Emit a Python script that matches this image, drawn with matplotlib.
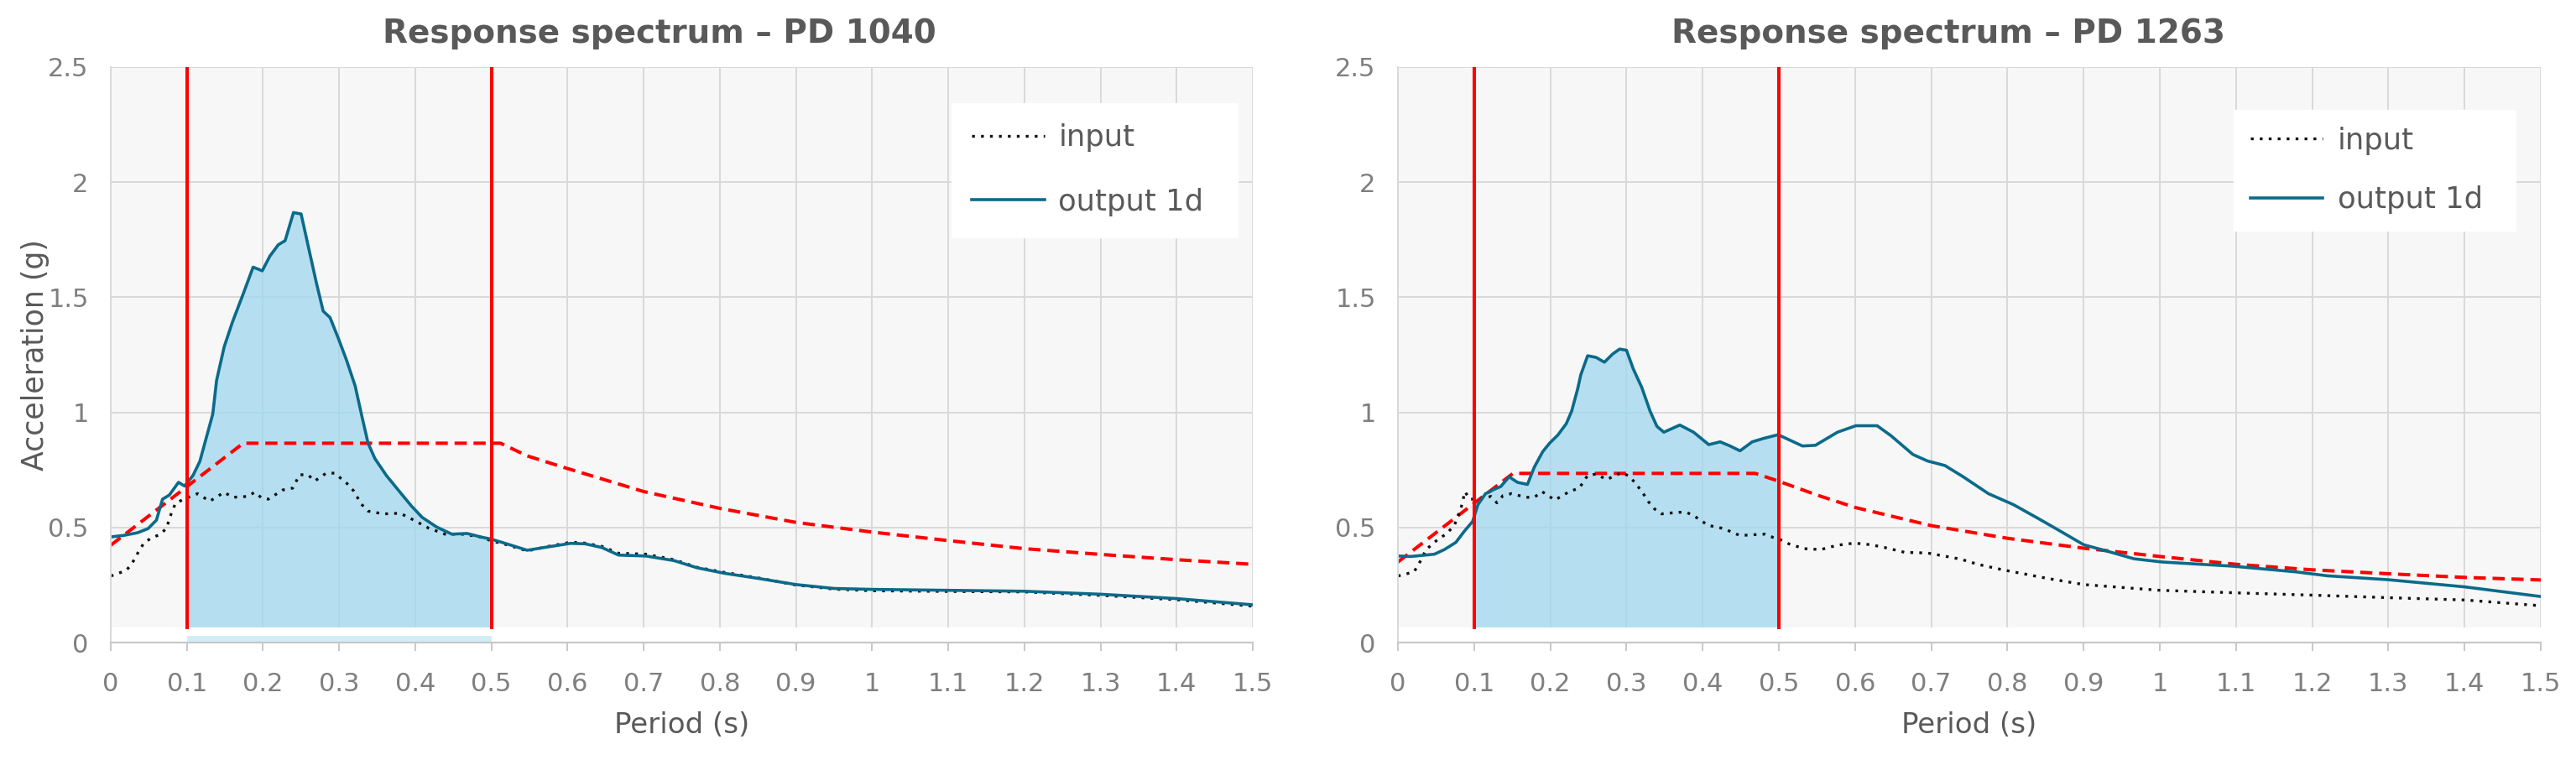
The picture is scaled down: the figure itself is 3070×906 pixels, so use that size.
import matplotlib
matplotlib.use("Agg")
import matplotlib.pyplot as plt
import numpy as np

plt.rcParams['font.family'] = ['DejaVu Sans']

# PD 1040 - output 1d
t_out_a = [0, 0.016, 0.035, 0.049, 0.060, 0.068, 0.077, 0.089, 0.097, 0.108, 0.117, 0.126, 0.134, 0.139,
           0.149, 0.160, 0.174, 0.187, 0.199, 0.209, 0.220, 0.229, 0.240, 0.250, 0.261, 0.270, 0.279, 0.288,
           0.299, 0.310, 0.321, 0.330, 0.338, 0.347, 0.362, 0.380, 0.395, 0.409, 0.428, 0.448, 0.468, 0.487,
           0.499, 0.520, 0.547, 0.575, 0.604, 0.623, 0.645, 0.667, 0.703, 0.740, 0.770, 0.806, 0.850, 0.9,
           0.95, 1.0, 1.1, 1.2, 1.3, 1.4, 1.5]
sa_out_a = [0.459, 0.465, 0.477, 0.495, 0.532, 0.623, 0.641, 0.696, 0.680, 0.726, 0.787, 0.896, 0.993, 1.139,
            1.285, 1.394, 1.515, 1.631, 1.615, 1.679, 1.728, 1.746, 1.868, 1.862, 1.698, 1.564, 1.440, 1.412,
            1.321, 1.224, 1.115, 0.981, 0.866, 0.799, 0.726, 0.653, 0.593, 0.544, 0.502, 0.471, 0.474, 0.458,
            0.450, 0.429, 0.401, 0.416, 0.431, 0.429, 0.413, 0.380, 0.376, 0.356, 0.325, 0.301, 0.279, 0.252,
            0.235, 0.231, 0.227, 0.223, 0.210, 0.191, 0.164]

# PD 1040 - input
t_in_a = [0, 0.020, 0.027, 0.035, 0.044, 0.053, 0.064, 0.073, 0.079, 0.085, 0.096, 0.114, 0.130, 0.149,
          0.160, 0.180, 0.189, 0.198, 0.207, 0.226, 0.239, 0.248, 0.259, 0.268, 0.283, 0.294, 0.310, 0.319,
          0.329, 0.338, 0.358, 0.380, 0.398, 0.417, 0.439, 0.461, 0.483, 0.501, 0.520, 0.547, 0.575, 0.604,
          0.623, 0.645, 0.667, 0.703, 0.740, 0.770, 0.806, 0.850, 0.9, 0.95, 1.0, 1.1, 1.2, 1.3, 1.4, 1.5]
sa_in_a = [0.289, 0.313, 0.338, 0.386, 0.435, 0.453, 0.469, 0.495, 0.556, 0.605, 0.623, 0.647, 0.614, 0.653,
           0.631, 0.635, 0.653, 0.629, 0.623, 0.663, 0.671, 0.729, 0.729, 0.702, 0.736, 0.736, 0.692, 0.659,
           0.602, 0.571, 0.559, 0.562, 0.532, 0.498, 0.471, 0.471, 0.461, 0.441, 0.425, 0.398, 0.418, 0.436,
           0.432, 0.418, 0.388, 0.384, 0.360, 0.327, 0.305, 0.281, 0.250, 0.232, 0.225, 0.222, 0.220, 0.205,
           0.186, 0.158]

# PD 1040 - code spectrum
t_code_a = [0, 0.174, 0.512, 0.547, 0.6, 0.7, 0.8, 0.9, 1.0, 1.1, 1.2, 1.3, 1.4, 1.5]
sa_code_a = [0.423, 0.866, 0.866, 0.811, 0.756, 0.656, 0.583, 0.522, 0.480, 0.443, 0.408, 0.383, 0.360, 0.340]

# PD 1263 - output 1d
t_out_b = [0, 0.017, 0.036, 0.048, 0.061, 0.076, 0.087, 0.098, 0.105, 0.115, 0.126, 0.135, 0.146, 0.157,
           0.170, 0.179, 0.190, 0.199, 0.210, 0.221, 0.228, 0.236, 0.240, 0.249, 0.260, 0.271, 0.282, 0.291,
           0.300, 0.309, 0.320, 0.331, 0.340, 0.349, 0.370, 0.388, 0.408, 0.423, 0.436, 0.449, 0.465, 0.480,
           0.499, 0.531, 0.548, 0.577, 0.601, 0.629, 0.647, 0.676, 0.695, 0.718, 0.742, 0.775, 0.808, 0.841,
           0.871, 0.900, 0.930, 0.966, 1.003, 1.095, 1.179, 1.220, 1.3, 1.4, 1.5]
sa_out_b = [0.376, 0.374, 0.380, 0.384, 0.404, 0.435, 0.483, 0.526, 0.599, 0.647, 0.665, 0.678, 0.720, 0.696,
            0.687, 0.762, 0.829, 0.866, 0.902, 0.951, 1.005, 1.103, 1.163, 1.246, 1.239, 1.218, 1.254, 1.275,
            1.270, 1.188, 1.109, 1.005, 0.939, 0.914, 0.945, 0.914, 0.860, 0.872, 0.854, 0.833, 0.872, 0.887,
            0.903, 0.854, 0.857, 0.914, 0.942, 0.942, 0.899, 0.817, 0.789, 0.769, 0.720, 0.647, 0.599, 0.538,
            0.481, 0.425, 0.398, 0.364, 0.350, 0.332, 0.307, 0.290, 0.273, 0.242, 0.200]

# PD 1263 - input
t_in_b = [0, 0.021, 0.027, 0.037, 0.052, 0.063, 0.074, 0.083, 0.088, 0.094, 0.109, 0.122, 0.130, 0.138,
          0.149, 0.168, 0.179, 0.189, 0.206, 0.225, 0.238, 0.249, 0.260, 0.274, 0.293, 0.302, 0.311, 0.322,
          0.329, 0.337, 0.346, 0.368, 0.379, 0.388, 0.397, 0.406, 0.428, 0.438, 0.449, 0.469, 0.482, 0.493,
          0.502, 0.513, 0.533, 0.555, 0.577, 0.599, 0.621, 0.643, 0.665, 0.695, 0.717, 0.739, 0.761, 0.794,
          0.827, 0.852, 0.9, 1.0, 1.1, 1.2, 1.3, 1.4, 1.5]
sa_in_b = [0.289, 0.307, 0.338, 0.404, 0.447, 0.471, 0.508, 0.587, 0.656, 0.623, 0.623, 0.635, 0.607, 0.639,
           0.647, 0.631, 0.631, 0.656, 0.619, 0.656, 0.671, 0.726, 0.732, 0.708, 0.738, 0.726, 0.696, 0.647,
           0.611, 0.580, 0.559, 0.566, 0.566, 0.550, 0.534, 0.510, 0.495, 0.480, 0.465, 0.469, 0.471, 0.456,
           0.447, 0.429, 0.408, 0.404, 0.423, 0.432, 0.425, 0.410, 0.392, 0.389, 0.376, 0.362, 0.340, 0.316,
           0.295, 0.279, 0.252, 0.227, 0.216, 0.206, 0.195, 0.185, 0.160]

# PD 1263 - code spectrum
t_code_b = [0, 0.151, 0.469, 0.498, 0.55, 0.6, 0.7, 0.8, 0.9, 1.0, 1.1, 1.2, 1.3, 1.4, 1.5]
sa_code_b = [0.350, 0.735, 0.735, 0.703, 0.641, 0.587, 0.508, 0.453, 0.410, 0.374, 0.340, 0.316, 0.299, 0.283, 0.272]

titles = ["Response spectrum \u2013 PD 1040", "Response spectrum \u2013 PD 1263"]
t_range = [0.1, 0.5]
x_ticks = [round(0.1 * i, 1) for i in range(16)]
x_labels = ["0", "0.1", "0.2", "0.3", "0.4", "0.5", "0.6", "0.7", "0.8", "0.9",
            "1", "1.1", "1.2", "1.3", "1.4", "1.5"]
y_ticks = [0, 0.5, 1, 1.5, 2, 2.5]
y_labels = ["0", "0.5", "1", "1.5", "2", "2.5"]

TEAL = "#0b6a8a"
RED = "#ff0000"
GRID = "#d9d9d9"
TXT = "#595959"
band = 0.066

fig = plt.figure(figsize=(30.7, 9.06), dpi=100)
ax1 = fig.add_axes([132 / 3070, 140 / 906, 1361 / 3070, 686 / 906])
ax2 = fig.add_axes([1666 / 3070, 140 / 906, 1362 / 3070, 686 / 906])

# legend: x, top, width, borderpad, labelspacing, handlelength, handletextpad
panels = [
    (ax1, t_in_a, sa_in_a, t_out_a, sa_out_a, t_code_a, sa_code_a,
     (1.104, 2.345, 0.376, 0.7, 1.2, 2.45, 0.45), 786),
    (ax2, t_in_b, sa_in_b, t_out_b, sa_out_b, t_code_b, sa_code_b,
     (1.097, 2.313, 0.37, 0.55, 1.03, 2.45, 0.5), 2322),
]

for i, (ax, ti, si, to, so, tc, sc, leg, tx) in enumerate(panels):
    ax.set_facecolor("#f7f7f7")
    ax.set_xlim(0, 1.5)
    ax.set_ylim(0, 2.5)
    ax.set_axisbelow(True)
    ax.grid(True, color=GRID, lw=1.4)

    # shaded output between the period limits
    inside = [t for t in to if t_range[0] < t < t_range[1]]
    xs = np.array([t_range[0]] + inside + [t_range[1]])
    ys = np.interp(xs, to, so)
    ax.fill_between(xs, band, ys, color="#9fd8ee", alpha=0.75, lw=0, zorder=1)

    ax.plot(tc, sc, color=RED, lw=2.9, dashes=(3.6, 2.0), zorder=3)
    ax.plot(ti, si, color="#111111", lw=2.4, dashes=(1, 2.2), label="input", zorder=4)
    ax.plot(to, so, color=TEAL, lw=2.6, label="output 1d", zorder=5)
    for t in t_range:
        ax.axvline(t, ymin=band / 2.5, ymax=1, color=RED, lw=2.9, zorder=6)

    # white strip along the bottom of the plot area
    ax.axhspan(0, band, color="white", lw=0, zorder=2.2)
    if i == 0:
        ax.fill_between(t_range, 0, 0.03, color="#d3edf7", lw=0, zorder=2.3)

    for s in ["top", "right"]:
        ax.spines[s].set_visible(False)
    ax.spines["left"].set_color(GRID)
    ax.spines["left"].set_linewidth(1.4)
    ax.spines["bottom"].set_color("#c8c8c8")
    ax.spines["bottom"].set_linewidth(1.6)
    for s in ax.spines.values():
        s.set_zorder(7)

    ax.set_xticks(x_ticks)
    ax.set_xticklabels(x_labels)
    ax.set_yticks(y_ticks)
    ax.set_yticklabels(y_labels)
    ax.tick_params(axis="x", length=7.5, width=1.4, color="#c8c8c8", labelsize=22,
                   labelcolor="#7f7f7f", pad=18)
    ax.tick_params(axis="y", length=0, labelsize=22, labelcolor="#7f7f7f", pad=19)

    lg = ax.legend(loc="upper left", bbox_to_anchor=(leg[0], leg[1], leg[2], 0),
                   bbox_transform=ax.transData, mode="expand", borderaxespad=0,
                   fontsize=25.5, frameon=True, fancybox=False, framealpha=1,
                   edgecolor="white", facecolor="white", handlelength=leg[5],
                   handletextpad=leg[6], labelspacing=leg[4], borderpad=leg[3])
    for txt in lg.get_texts():
        txt.set_color(TXT)
    lg.set_zorder(8)

    fig.text(tx / 3070, 1 - 40 / 906, titles[i], ha="center", va="center",
             fontsize=28, fontweight="bold", color=TXT)
    x_mid = (ax.get_position().x0 + ax.get_position().x1) / 2
    fig.text(x_mid, 1 - 865 / 906, "Period (s)", ha="center", va="center",
             fontsize=24.5, color=TXT)

fig.text(42 / 3070, 1 - 423 / 906, "Acceleration (g)", ha="center", va="center",
         rotation=90, fontsize=25, color=TXT)

fig.savefig("out.png", dpi=100, facecolor="white")
